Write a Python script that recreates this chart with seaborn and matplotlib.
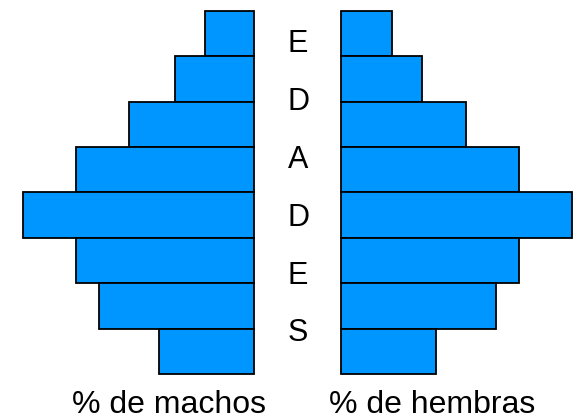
import matplotlib
matplotlib.use("Agg")
import matplotlib.pyplot as plt
import pandas as pd
import seaborn as sns

# age groups, oldest at the top
groups = ["80+", "70-79", "60-69", "50-59", "40-49", "30-39", "20-29", "10-19"]
machos = [2.1, 3.4, 5.4, 7.7, 10.0, 7.7, 6.7, 4.1]
hembras = [2.2, 3.5, 5.4, 7.7, 10.0, 7.7, 6.7, 4.1]
side_letters = ["E", "D", "A", "D", "E", "S"]
x_labels = ["% de machos", "% de hembras"]

sns.set_style("white")
plt.rcParams["font.family"] = ["Liberation Sans", "DejaVu Sans"]

df = pd.DataFrame({"grupo": groups, "machos": machos, "hembras": hembras})

W, H = 574, 419
fig = plt.figure(figsize=(W / 100, H / 100), dpi=100)
bottom = 45 / H
height = 363 / H
ax_m = fig.add_axes([0, bottom, 254 / W, height])
ax_h = fig.add_axes([341 / W, bottom, 233 / W, height])

bar_color = "#0096ff"
for ax, col, xmax in [(ax_m, "machos", 254 / 23.1), (ax_h, "hembras", 233 / 23.1)]:
    sns.barplot(data=df, x=col, y="grupo", orient="h", color=bar_color,
                width=1.0, edgecolor="black", linewidth=1.3, saturation=1, ax=ax)
    for p in ax.patches:
        p.set_clip_on(False)
    ax.set_ylim(len(groups) - 0.5, -0.5)
    ax.set_xlim(0, xmax)
    ax.set_axis_off()
ax_m.invert_xaxis()

# baselines of the vertical word, in pixels from the top
baselines = [52, 110, 168, 226, 284, 341]
for letter, y in zip(side_letters, baselines):
    fig.text(298 / W, 1 - y / H, letter, ha="center", va="baseline",
             fontsize=22, color="black")

fig.text(169 / W, 1 - 413 / H, x_labels[0], ha="center", va="baseline",
         fontsize=23, color="black")
fig.text(432 / W, 1 - 413 / H, x_labels[1], ha="center", va="baseline",
         fontsize=23, color="black")

fig.savefig("out.png", dpi=100)
